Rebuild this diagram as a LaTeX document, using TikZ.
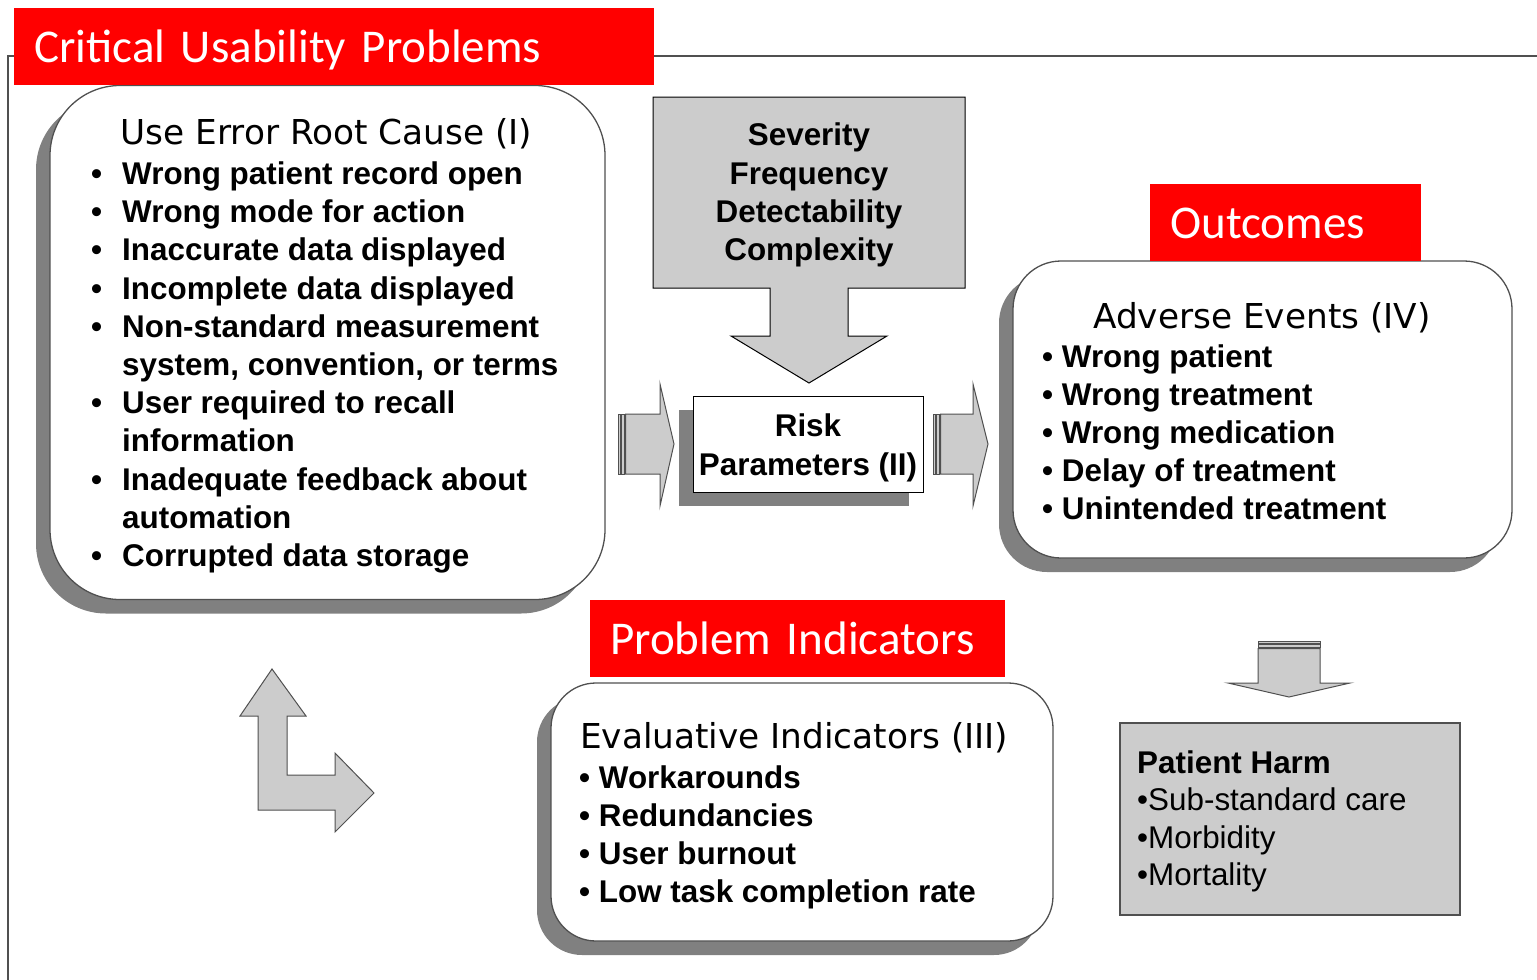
\documentclass[tikz,border=0pt]{standalone}
\usepackage{fontspec}
\setmainfont{Liberation Sans}
\newfontfamily\headfont{DejaVu Sans}
\newfontfamily\tagfont{Carlito}
\usepackage{xcolor}
\usepackage{tikz}
\usetikzlibrary{shadows}

\definecolor{tagred}{HTML}{FF0000}
\definecolor{boxgray}{HTML}{CCCCCC}
\definecolor{shadegray}{HTML}{808080}
\definecolor{linegray}{HTML}{505050}

\newcommand{\bul}{\makebox[31pt][l]{•}}

\tikzset{
	tag/.style={fill=tagred,text=white,font=\tagfont\fontsize{47}{56}\selectfont,anchor=north west,align=left,
		inner xsep=20pt,inner ysep=0pt,minimum height=77pt,text height=37pt,text depth=5pt},
	softbox/.style={draw=linegray,line width=1.3pt,fill=white,
		general shadow={fill=shadegray,shadow xshift=-14pt,shadow yshift=-14pt}},
	blockarrow/.style={draw=linegray,line width=1pt,fill=boxgray,line join=miter},
	head/.style={font=\headfont\fontsize{34.3}{40}\selectfont,inner sep=0pt},
	item/.style={font=\bfseries\fontsize{31.4}{38}\selectfont,anchor=base west,inner sep=0pt},
	itemc/.style={font=\bfseries\fontsize{31.4}{38}\selectfont,anchor=base,inner sep=0pt},
	plain/.style={font=\fontsize{31.4}{38}\selectfont,anchor=base west,inner sep=0pt}
}

\begin{document}
\begin{tikzpicture}[x=1pt,y=-1pt]
		\useasboundingbox (0,0) rectangle (1537,980);
		% frame
		\draw[linegray,line width=1.5pt] (8,980) -- (8,56) -- (1537,56);
		%
		% boxes
		\node[softbox,rounded corners=70pt,minimum width=555pt,minimum height=514pt] (cause) at (327.5,342.5) {};
		\node[softbox,rounded corners=48pt,minimum width=499pt,minimum height=297pt] (events) at (1262.5,409.5) {};
		\node[softbox,rounded corners=45pt,minimum width=502pt,minimum height=258pt] (indic) at (802,812) {};
		\node[softbox,draw=black,line width=1pt,minimum width=230pt,minimum height=96pt] (risk) at (808,444) {};
		\node[draw=linegray,line width=1.3pt,fill=boxgray,minimum width=340pt,minimum height=192pt] (harm) at (1290,819) {};
		%
		% severity box with its arrow
		\draw[blockarrow,draw=black] (653,97) -- (965,97) -- (965,288) -- (848,288) -- (848,336) -- (887,336)
			-- (809,383) -- (731,336) -- (770,336) -- (770,288) -- (653,288) -- cycle;
		%
		% striped arrows
		\draw[blockarrow] (618,414) rectangle (620,474);
		\draw[blockarrow] (621.5,414) rectangle (624,474);
		\draw[blockarrow] (625.5,414) -- (660,414) -- (660,384) -- (674,444) -- (660,506) -- (660,474) -- (625.5,474) -- cycle;
		\draw[blockarrow] (933,414) rectangle (935,474);
		\draw[blockarrow] (936.5,414) rectangle (939,474);
		\draw[blockarrow] (940.5,414) -- (973,414) -- (973,384) -- (988,444) -- (973,506) -- (973,474) -- (940.5,474) -- cycle;
		\draw[blockarrow] (1258,641) rectangle (1320,643);
		\draw[blockarrow] (1258,644.5) rectangle (1320,647);
		\draw[blockarrow] (1258,648.5) -- (1320,648.5) -- (1320,683) -- (1350,683) -- (1289,697) -- (1228,683)
			-- (1258,683) -- cycle;
		% bent arrow
		\draw[blockarrow] (258,810) -- (258,716) -- (240,716) -- (272,669) -- (306,716) -- (287,716) -- (287,775)
			-- (335,775) -- (335,753) -- (374,793) -- (335,832) -- (335,810) -- cycle;
		%
		% root causes
		\node[head,anchor=base] (causehead) at (326.5,144.5) {Use Error Root Cause (I)};
		\node[item] (c1) at (91,184) {\bul Wrong patient record open};
		\node[item] (c2) at (91,222) {\bul Wrong mode for action};
		\node[item] (c3) at (91,260) {\bul Inaccurate data displayed};
		\node[item] (c4) at (91,299) {\bul Incomplete data displayed};
		\node[item] (c5) at (91,337) {\bul Non-standard measurement};
		\node[item] (c5') at (122,375) {system, convention, or terms};
		\node[item] (c6) at (91,413) {\bul User required to recall};
		\node[item] (c6') at (122,451) {information};
		\node[item] (c7) at (91,490) {\bul Inadequate feedback about};
		\node[item] (c7') at (122,528) {automation};
		\node[item] (c8) at (91,566) {\bul Corrupted data storage};
		%
		% risk parameters
		\node[itemc] (s1) at (809,145) {Severity};
		\node[itemc] (s2) at (809,184) {Frequency};
		\node[itemc] (s3) at (809,222) {Detectability};
		\node[itemc] (s4) at (809,260) {Complexity};
		\node[itemc] (r1) at (808,436) {Risk};
		\node[itemc] (r2) at (808,475) {Parameters (II)};
		%
		% adverse events
		\node[head,anchor=base] (eventshead) at (1262,328.5) {Adverse Events (IV)};
		\node[item] (e1) at (1042,367) {• Wrong patient};
		\node[item] (e2) at (1042,405) {• Wrong treatment};
		\node[item] (e3) at (1042,443) {• Wrong medication};
		\node[item] (e4) at (1042,481) {• Delay of treatment};
		\node[item] (e5) at (1042,519) {• Unintended treatment};
		%
		% evaluative indicators
		\node[head,anchor=base west] (indichead) at (580,748.5) {Evaluative Indicators (III)};
		\node[item] (i1) at (579,788) {• Workarounds};
		\node[item] (i2) at (579,826) {• Redundancies};
		\node[item] (i3) at (579,864) {• User burnout};
		\node[item] (i4) at (579,902) {• Low task completion rate};
		%
		% patient harm
		\node[item] (h0) at (1137,773) {Patient Harm};
		\node[plain] (h1) at (1137,810) {•Sub-standard care};
		\node[plain] (h2) at (1137,848) {•Morbidity};
		\node[plain] (h3) at (1137,885) {•Mortality};
		%
		% red tags
		\node[tag,text width=600pt] (cuptag) at (14,8) {Critical Usability Problems};
		\node[tag,text width=231pt] (outtag) at (1150,184) {Outcomes};
		\node[tag,text width=375pt] (indtag) at (590,600) {Problem Indicators};
\end{tikzpicture}
\end{document}
